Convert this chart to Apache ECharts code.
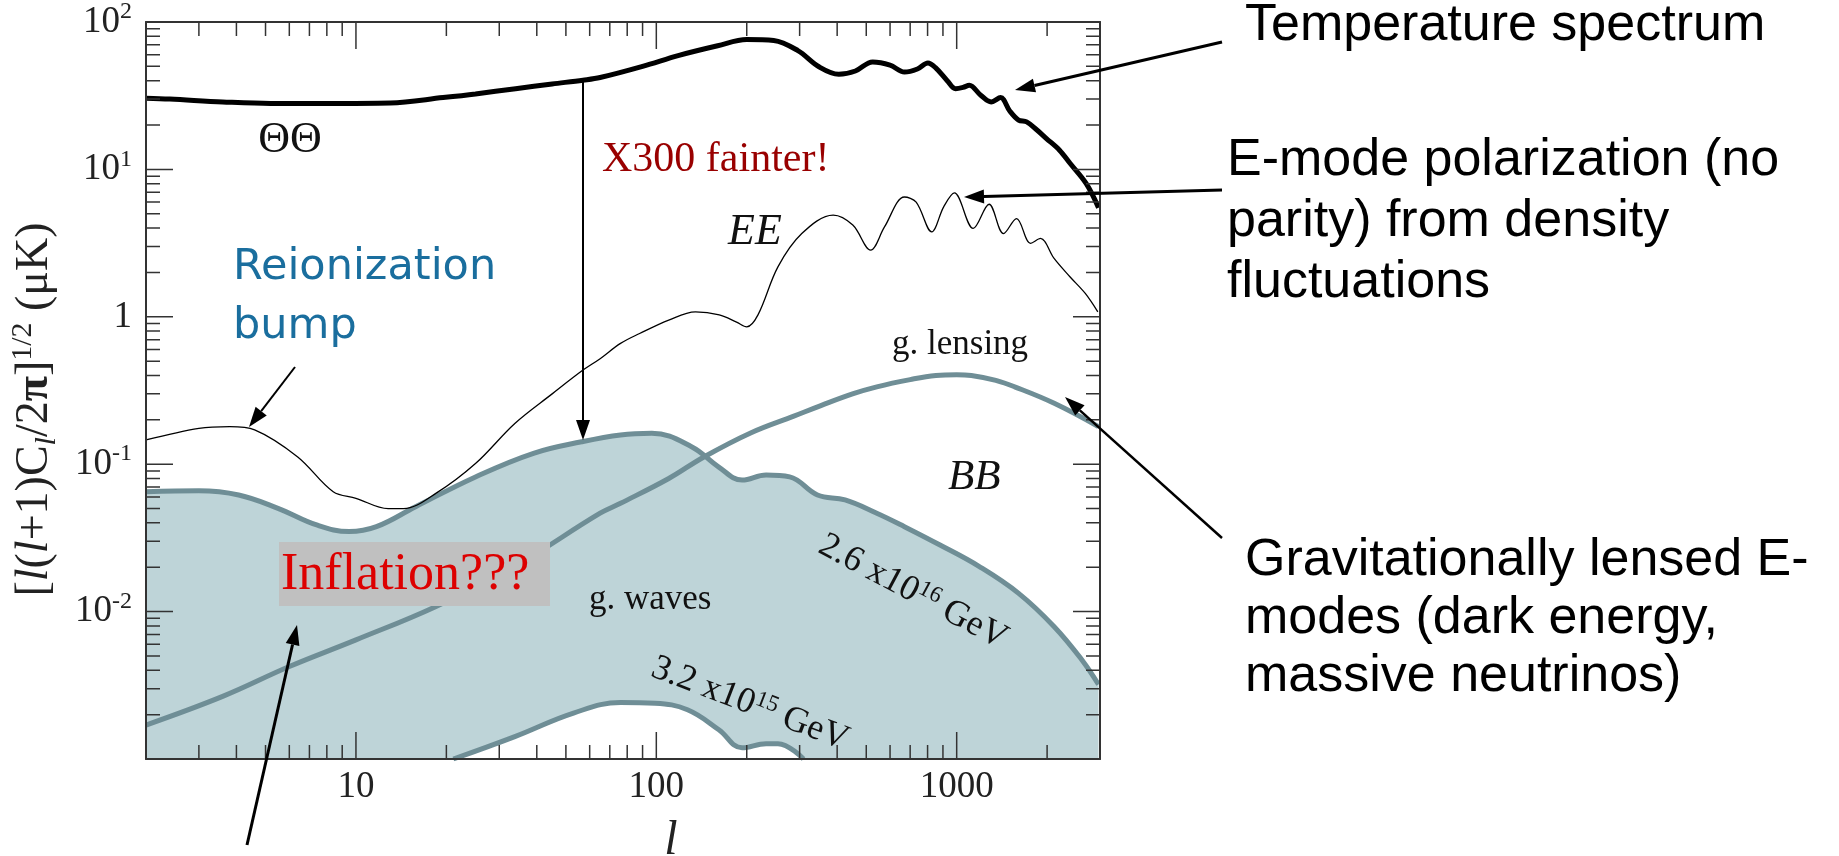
<!DOCTYPE html>
<html>
<head>
<meta charset="utf-8">
<script src="https://cdn.jsdelivr.net/npm/echarts@6/dist/echarts.min.js"></script>
<style>
  html, body { margin: 0; padding: 0; background: #fff; }
  #chart { width: 1839px; height: 856px; }
</style>
</head>
<body>
<div id="chart"></div>
<script>
// CMB angular power spectra, [l(l+1)C_l/2pi]^(1/2) in uK
const ttL = [2, 2.4, 3.6, 5.2, 8, 13, 19.5, 25, 34, 45, 57, 65, 90, 119, 160, 200, 246, 296, 349, 405, 460, 525, 600, 670, 740, 802, 850, 930, 991, 1050, 1102, 1200, 1302, 1400, 1500, 1607, 1710, 1850, 1990, 2200, 2384, 2700, 2966];
const ttV = [30.4, 30, 28.7, 28, 28, 28.2, 30.7, 32.5, 35.3, 38, 40.3, 42, 50, 59.4, 69, 76, 75, 64, 49.5, 44.2, 46.5, 53.6, 51, 45.8, 48, 52.7, 49, 40, 35.3, 36, 37.2, 32, 28.7, 30.7, 25, 21.6, 21, 18.5, 16.2, 13.5, 11, 8, 5.5];

const eeL = [2, 3, 3.8, 4.6, 6.4, 8.4, 10, 12.8, 14.4, 18.5, 25, 33.8, 45, 57, 65, 76, 88, 110, 135, 162, 185, 200, 218, 254, 305, 388, 451, 517, 575, 670, 733, 826, 905, 982, 1135, 1282, 1432, 1582, 1762, 1901, 2110, 2382, 2680, 2950];
const eeV = [0.146, 0.175, 0.18, 0.171, 0.112, 0.065, 0.0587, 0.05, 0.05, 0.0636, 0.101, 0.189, 0.3, 0.435, 0.52, 0.66, 0.77, 0.95, 1.08, 1.03, 0.92, 0.855, 1.03, 2.18, 3.67, 4.9, 4.19, 2.83, 4.07, 6.5, 6.0, 3.77, 5.57, 6.93, 3.98, 5.8, 3.67, 4.64, 3.15, 3.4, 2.49, 1.87, 1.44, 1.08];

const lensL = [2, 3.6, 6, 10, 18.4, 33.7, 65, 76, 110, 144, 206, 287, 353, 450, 542, 700, 853, 1000, 1119, 1350, 1559, 2112, 2964];
const lensV = [0.0017, 0.00266, 0.00424, 0.00643, 0.0108, 0.0202, 0.0465, 0.0543, 0.08, 0.112, 0.163, 0.212, 0.25, 0.3, 0.335, 0.375, 0.4, 0.405, 0.4, 0.37, 0.335, 0.259, 0.18];

// gravity waves, 2.6x10^16 GeV
const gwHiL = [2, 3, 4.07, 5.5, 7.4, 9.5, 11.7, 15.8, 25, 39, 56.4, 76, 96.6, 131, 161, 193, 232, 278, 344, 425, 542, 670, 880, 1190, 1608, 2112, 2612, 2966];
const gwHiV = [0.065, 0.066, 0.0618, 0.0502, 0.0387, 0.0349, 0.0377, 0.0515, 0.082, 0.1186, 0.142, 0.158, 0.162, 0.1315, 0.096, 0.078, 0.0845, 0.082, 0.0618, 0.0572, 0.0465, 0.0377, 0.0283, 0.0202, 0.0133, 0.0079, 0.0047, 0.0032];

// gravity waves, 3.2x10^15 GeV
const gwLoL = [21.1, 33.8, 53, 76, 99, 127, 161.5, 193, 232, 254, 309];
const gwLoV = [0.001, 0.00142, 0.00205, 0.00242, 0.00239, 0.00216, 0.00158, 0.00119, 0.00127, 0.00127, 0.001];

// ticks and labels
const xMajor = [10, 100, 1000];
const xMinor = [3, 4, 5, 6, 7, 8, 9, 20, 30, 40, 50, 60, 70, 80, 90, 200, 300, 400, 500, 600, 700, 800, 900, 2000];
const yMajor = [0.01, 0.1, 1, 10];
const yLabelVals = [0.01, 0.1, 1, 10, 100];
const yLabelExp = ['-2', '-1', '', '1', '2'];
const yDecades = [0.001, 0.01, 0.1, 1, 10];
const yMinor = [];
yDecades.forEach(d => {
  for (let k = 2; k <= 9; k++) yMinor.push(+(d * k).toPrecision(3));
});

const zip = (a, b) => a.map((v, i) => [v, b[i]]);

const serif = '"Liberation Serif", "Times New Roman", serif';
const sans = '"Liberation Sans", Arial, sans-serif';
const teal = '#6f8e96';
const tealFill = '#bed4d8';
const ink = '#333';
const X_MIN = 2, X_MAX = 3000, Y_MIN = 0.001, Y_MAX = 100;
const GRID = { left: 146, right: 739, top: 22, bottom: 97 };
const MAJOR = 27, MINOR = 14;

// inward tick marks as short segments along each frame side
const PX_PER_DEC_X = (1839 - GRID.left - GRID.right) / Math.log10(X_MAX / X_MIN);
const PX_PER_DEC_Y = (856 - GRID.top - GRID.bottom) / Math.log10(Y_MAX / Y_MIN);
function tickData(side) {
  const out = [];
  const fx = len => Math.pow(10, len / PX_PER_DEC_X);
  const fy = len => Math.pow(10, len / PX_PER_DEC_Y);
  const add = (v, len) => {
    if (side === 'bottom') out.push([v, Y_MIN], [v, Y_MIN * fy(len)], [v, '-']);
    if (side === 'top') out.push([v, Y_MAX], [v, Y_MAX / fy(len)], [v, '-']);
    if (side === 'left') out.push([X_MIN, v], [X_MIN * fx(len), v], ['-', v]);
    if (side === 'right') out.push([X_MAX, v], [X_MAX / fx(len), v], ['-', v]);
  };
  const horiz = side === 'bottom' || side === 'top';
  (horiz ? xMajor : yMajor).forEach(v => add(v, MAJOR));
  (horiz ? xMinor : yMinor).forEach(v => add(v, MINOR));
  return out;
}
const tickSeries = ['bottom', 'top', 'left', 'right'].map(side => ({
  name: 'ticks ' + side, type: 'line', data: tickData(side), z: 3,
  silent: true, symbol: 'none', showSymbol: false, connectNulls: false,
  lineStyle: { color: ink, width: 1.5 }
}));

const frameLine = () => ({ show: true, onZero: false, lineStyle: { color: ink, width: 2 } });

const xAxes = [
  {
    type: 'log', min: X_MIN, max: X_MAX, position: 'bottom', z: 10,
    axisLine: frameLine(), axisTick: { show: false }, splitLine: { show: false },
    axisLabel: {
      customValues: xMajor, margin: 10,
      fontFamily: serif, fontSize: 37, color: '#222',
      formatter: v => String(Math.round(v))
    },
    name: 'l', nameLocation: 'middle', nameGap: 58,
    nameTextStyle: { fontFamily: serif, fontStyle: 'italic', fontSize: 48, color: '#222', padding: [0, 0, 0, 96] }
  },
  {
    type: 'log', min: X_MIN, max: X_MAX, position: 'top', z: 10,
    axisLine: frameLine(), axisTick: { show: false }, axisLabel: { show: false }, splitLine: { show: false }
  }
];

const yAxes = [
  {
    type: 'log', min: Y_MIN, max: Y_MAX, position: 'left', z: 10,
    axisLine: frameLine(), axisTick: { show: false }, splitLine: { show: false },
    axisLabel: {
      customValues: yLabelVals, margin: 14,
      fontFamily: serif, fontSize: 37, color: '#222', lineHeight: 44,
      formatter: v => {
        const i = yLabelVals.findIndex(t => Math.abs(Math.log10(t) - Math.log10(v)) < 1e-6);
        const e = i >= 0 ? yLabelExp[i] : '';
        return e === '' ? '1' : '10{s|' + e + '}';
      },
      rich: { s: { fontFamily: serif, fontSize: 24, color: '#222', lineHeight: 24, verticalAlign: 'top' } }
    },
    name: '[{i|l}({i|l}+1)C{sub|l}/2{b|π}]{sup|1/2} (μK)',
    nameLocation: 'middle', nameGap: 84, nameRotate: 90,
    nameTextStyle: {
      fontFamily: serif, fontSize: 46, color: '#222', lineHeight: 54, padding: [0, 38, 0, 0],
      rich: {
        i: { fontFamily: serif, fontSize: 46, fontStyle: 'italic', color: '#222', lineHeight: 54 },
        b: { fontFamily: serif, fontSize: 46, fontWeight: 'bold', color: '#222', lineHeight: 54 },
        sub: { fontFamily: serif, fontSize: 30, fontStyle: 'italic', color: '#222', lineHeight: 30, verticalAlign: 'bottom' },
        sup: { fontFamily: serif, fontSize: 30, color: '#222', lineHeight: 30, verticalAlign: 'top' }
      }
    }
  },
  {
    type: 'log', min: Y_MIN, max: Y_MAX, position: 'right', z: 10,
    axisLine: frameLine(), axisTick: { show: false }, axisLabel: { show: false }, splitLine: { show: false }
  }
];

function arrow(x1, y1, x2, y2, w) {
  const a = Math.atan2(y2 - y1, x2 - x1);
  const L = 20, H = 7;
  const bx = x2 - L * Math.cos(a), by = y2 - L * Math.sin(a);
  return [
    { type: 'line', z: 30, shape: { x1, y1, x2: bx, y2: by }, style: { stroke: '#000', lineWidth: w } },
    { type: 'polygon', z: 30, shape: { points: [[x2, y2], [bx - H * Math.sin(a), by + H * Math.cos(a)], [bx + H * Math.sin(a), by - H * Math.cos(a)]] }, style: { fill: '#000' } }
  ];
}

function label(text, x, y, opts) {
  return {
    type: 'text', z: 25, x, y,
    rotation: opts.rotation || 0,
    style: Object.assign({
      text, fontFamily: serif, fontSize: 34, fill: '#111',
      align: 'left', verticalAlign: 'middle'
    }, opts.style || {})
  };
}

const supRich = { s: { fontFamily: serif, fontSize: 23, fill: '#111', lineHeight: 22, verticalAlign: 'top' } };

const graphics = [
  label('ΘΘ', 290, 140, { style: { fontSize: 44, align: 'center' } }),
  label('X300 fainter!', 602, 160, { style: { fontSize: 42, fill: '#990000' } }),
  label('EE', 728, 232, { style: { fontSize: 44, fontStyle: 'italic' } }),
  label('g. lensing', 892, 345, { style: { fontSize: 35 } }),
  label('BB', 948, 478, { style: { fontSize: 43, fontStyle: 'italic' } }),
  label('g. waves', 589, 600, { style: { fontSize: 35 } }),
  label('2.6 x10{s|16} GeV', 913, 592, { rotation: -28 * Math.PI / 180, style: { fontSize: 36, align: 'center', lineHeight: 38, rich: supRich } }),
  label('3.2 x10{s|15} GeV', 750, 704, { rotation: -21 * Math.PI / 180, style: { fontSize: 36, align: 'center', lineHeight: 38, rich: supRich } }),
  { type: 'rect', z: 24, shape: { x: 279, y: 542, width: 271, height: 64 }, style: { fill: '#c0c0c0' } },
  label('Inflation???', 281, 575, { style: { fontSize: 52, fill: '#dd0000' } }),
  label('Reionization\nbump', 233, 238, { style: { fontFamily: '"DejaVu Sans", sans-serif', fontSize: 43, fill: '#1a6e9e', verticalAlign: 'top', lineHeight: 59 } }),
  label('Temperature spectrum', 1245, 26, { style: { fontFamily: sans, fontSize: 52, fill: '#000' } }),
  label('E-mode polarization (no\nparity) from density\nfluctuations', 1227, 130, { style: { fontFamily: sans, fontSize: 52, fill: '#000', verticalAlign: 'top', lineHeight: 61 } }),
  label('Gravitationally lensed E-\nmodes (dark energy,\nmassive neutrinos)', 1245, 532, { style: { fontFamily: sans, fontSize: 52, fill: '#000', verticalAlign: 'top', lineHeight: 58 } })
].concat(
  arrow(1222, 42, 1015, 90, 3),
  arrow(1222, 190, 964, 197, 3),
  arrow(1222, 538, 1065, 397, 2.5),
  arrow(583, 80, 583, 440, 2),
  arrow(295, 367, 249, 427, 2),
  arrow(247, 845, 297, 625, 3)
);

const chart = echarts.init(document.getElementById('chart'));

chart.setOption({
  backgroundColor: '#fff',
  animation: false,
  grid: Object.assign({ outerBoundsMode: 'none' }, GRID),
  xAxis: xAxes,
  yAxis: yAxes,
  series: [
    {
      name: 'g. waves 2.6e16', type: 'line', data: zip(gwHiL, gwHiV),
      smooth: 0.4, showSymbol: false, symbol: 'none',
      lineStyle: { color: teal, width: 5 },
      areaStyle: { color: tealFill, opacity: 1, origin: 'start' }
    },
    {
      name: 'g. waves 3.2e15', type: 'line', data: zip(gwLoL, gwLoV),
      smooth: 0.4, showSymbol: false, symbol: 'none',
      lineStyle: { color: teal, width: 5 },
      areaStyle: { color: '#fff', opacity: 1, origin: 'start' }
    },
    {
      name: 'g. lensing', type: 'line', data: zip(lensL, lensV),
      smooth: 0.4, showSymbol: false, symbol: 'none',
      lineStyle: { color: teal, width: 5 }
    },
    {
      name: 'EE', type: 'line', data: zip(eeL, eeV),
      smooth: 0.35, showSymbol: false, symbol: 'none',
      lineStyle: { color: '#000', width: 1.3 }
    },
    {
      name: 'TT', type: 'line', data: zip(ttL, ttV),
      smooth: 0.35, showSymbol: false, symbol: 'none',
      lineStyle: { color: '#000', width: 5 }
    }
  ].concat(tickSeries),
  graphic: graphics
});
</script>
</body>
</html>
